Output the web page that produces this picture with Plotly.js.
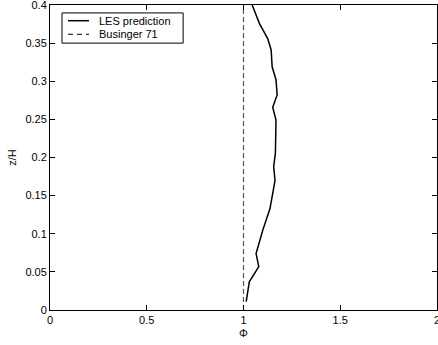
<!DOCTYPE html>
<html><head><meta charset="utf-8">
<script src="https://cdn.plot.ly/plotly-3.0.1.min.js"></script>
<style>body{margin:0;padding:0;background:#fff;overflow:hidden}#chart{width:438px;height:345px}</style>
</head><body><div id="chart"></div>
<script>
var lesPhi = [1.014, 1.03, 1.079, 1.065, 1.10, 1.137, 1.163, 1.156, 1.165, 1.168, 1.151, 1.174, 1.168, 1.148, 1.143, 1.125, 1.082, 1.065, 1.045];
var lesZ   = [0.011, 0.037, 0.057, 0.074, 0.105, 0.133, 0.170, 0.188, 0.206, 0.249, 0.266, 0.282, 0.302, 0.319, 0.341, 0.356, 0.376, 0.387, 0.400];
var busPhi = [1, 1];
var busZ = [0, 0.4];
var xTicks = [0, 0.5, 1, 1.5, 2];
var yTicks = [0, 0.05, 0.1, 0.15, 0.2, 0.25, 0.3, 0.35, 0.4];
var seriesNames = ['LES prediction', 'Businger 71'];

var FONT = 'Liberation Sans, Arial, sans-serif';
var lesLine = {color: '#000', width: 1.5};
var busLine = {color: '#555', width: 1.2, dash: '5px,3px'};
var traces = [
  {x: lesPhi, y: lesZ, mode: 'lines', name: seriesNames[0], line: lesLine, showlegend: false},
  {x: busPhi, y: busZ, mode: 'lines', name: seriesNames[1], line: busLine, showlegend: false}
];
var axisCommon = {showgrid: false, zeroline: false, showline: true, linecolor: '#000', linewidth: 1,
  mirror: 'ticks', ticks: 'inside', ticklen: 5, tickcolor: '#000', ticklabeloverflow: 'allow',
  tickfont: {family: FONT, size: 11, color: '#000'}};

// manual compact legend (paper coordinates)
var lg = {x0: 0.031, x1: 0.344, y0: 0.875, y1: 0.974, sx0: 0.0465, sx1: 0.1008, tx: 0.1214, rows: [0.9485, 0.904]};
var shapes = [
  {type: 'rect', xref: 'paper', yref: 'paper', x0: lg.x0, x1: lg.x1, y0: lg.y0, y1: lg.y1,
   line: {color: '#000', width: 1}, fillcolor: '#fff', layer: 'above'},
  {type: 'line', xref: 'paper', yref: 'paper', x0: lg.sx0, x1: lg.sx1, y0: lg.rows[0], y1: lg.rows[0], line: lesLine, layer: 'above'},
  {type: 'line', xref: 'paper', yref: 'paper', x0: lg.sx0, x1: lg.sx1, y0: lg.rows[1], y1: lg.rows[1], line: {color: '#000', width: 1, dash: '5px,4px'}, layer: 'above'}
];
var annotations = seriesNames.map(function (n, i) {
  return {xref: 'paper', yref: 'paper', x: lg.tx, y: lg.rows[i], xanchor: 'left', yanchor: 'middle',
          text: n, showarrow: false, font: {family: FONT, size: 11, color: '#000'}};
});

var layout = {
  width: 438, height: 345,
  margin: {l: 50, r: 1, t: 5, b: 35},
  paper_bgcolor: '#fff', plot_bgcolor: '#fff',
  showlegend: false,
  shapes: shapes, annotations: annotations,
  xaxis: Object.assign({}, axisCommon, {range: [0, 2.0001], tickvals: xTicks, ticktext: xTicks.map(String),
    title: {text: 'Φ', font: {family: FONT, size: 11, color: '#000'}, standoff: 4}}),
  yaxis: Object.assign({}, axisCommon, {range: [0, 0.40002], tickvals: yTicks, ticktext: yTicks.map(String),
    title: {text: 'z/H', font: {family: FONT, size: 11, color: '#000'}, standoff: 6}})
};
Plotly.newPlot('chart', traces, layout, {displayModeBar: false, staticPlot: true});
</script></body></html>
